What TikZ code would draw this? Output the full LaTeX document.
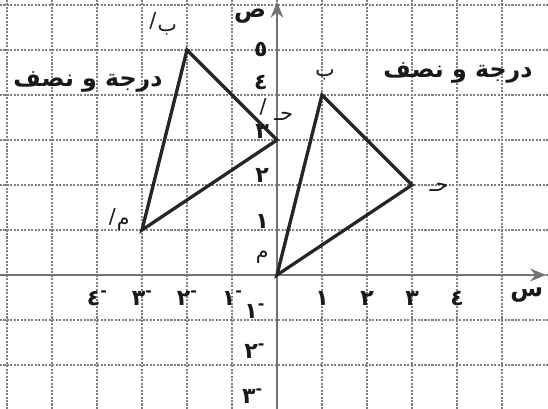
\documentclass[tikz,border=0pt]{standalone}
\usepackage{fontspec}
\TeXXeTstate=1
\newfontfamily\arabicfont[Script=Arabic]{DejaVu Sans}
\usetikzlibrary{arrows.meta}
\tikzset{
  gridln/.style={draw=black!50, line width=0.7pt, dash pattern=on 1.3pt off 0.9pt},
  axisln/.style={draw=black!55, line width=1.6pt, -{Stealth[length=10pt,width=8pt]}},
  triln/.style={draw=black!85, line width=2.1pt, line join=miter},
  num/.style={font=\arabicfont\bfseries\fontsize{14}{14}\selectfont, inner sep=0pt, text=black!90},
  ptl/.style={font=\arabicfont\fontsize{13}{13}\selectfont, inner sep=0pt, text=black!90},
  slash/.style={font=\arabicfont\fontsize{13}{13}\selectfont, inner sep=0pt, text=black!90, text height=1.4ex, text depth=0pt},
  title/.style={font=\arabicfont\bfseries\fontsize{15}{15}\selectfont, inner sep=0pt, text=black!90},
}
\newcommand{\negm}{\raisebox{0.75ex}{\fontsize{10}{10}\selectfont -}}
\begin{document}
\begin{tikzpicture}
\useasboundingbox[fill=white] (-6.156,-2.978) rectangle (6.022,6.111);
% grid
\foreach \x in {-6,...,5} \draw[gridln] (\x,-2.978) -- (\x,6.111);
\foreach \y in {-2,...,6} \draw[gridln] (-6.156,\y) -- (6.022,\y);
% axes
\coordinate (xs) at (-6.156,0);
\coordinate (xe) at (5.98,0);
\coordinate (ys) at (0,-2.978);
\coordinate (ye) at (0,6.07);
\draw[axisln] (xs) -- (xe);
\draw[axisln] (ys) -- (ye);
% triangles
\coordinate (A) at (0,0);
\coordinate (B) at (1,4);
\coordinate (C) at (3,2);
\coordinate (A2) at (-3,1);
\coordinate (B2) at (-2,5);
\coordinate (C2) at (0,3);
\draw[triln] (A) -- (B) -- (C) -- cycle;
\draw[triln] (A2) -- (B2) -- (C2) -- cycle;
% x-axis numbers
\node[num] (x1) at (1,-0.52) {١};
\node[num] (x2) at (2,-0.52) {٢};
\node[num] (x3) at (3,-0.52) {٣};
\node[num] (x4) at (4,-0.52) {٤};
\node[num] (xm1) at (-1,-0.52) {١\negm};
\node[num] (xm2) at (-2,-0.52) {٢\negm};
\node[num] (xm3) at (-3,-0.52) {٣\negm};
\node[num] (xm4) at (-4,-0.52) {٤\negm};
% y-axis numbers
\node[num] (y5) at (-0.36,5.0) {٥};
\node[num] (y4) at (-0.36,4.28) {٤};
\node[num] (y3) at (-0.33,3.2) {٣};
\node[num] (y2) at (-0.33,2.22) {٢};
\node[num] (y1) at (-0.33,1.18) {١};
\node[num] (ym1) at (-0.5,-0.8) {١\negm};
\node[num] (ym2) at (-0.5,-1.7) {٢\negm};
\node[num] (ym3) at (-0.55,-2.7) {٣\negm};
% axis names
\node[num, font=\arabicfont\bfseries\fontsize{15}{15}\selectfont] (sy) at (-0.6,5.76) {ص};
\node[num, font=\arabicfont\bfseries\fontsize{15}{15}\selectfont] (sx) at (5.55,-0.45) {س};
% point labels
\node[ptl] (lA) at (-0.33,0.4) {م};
\node[ptl] (lB) at (1.07,4.45) {ب};
\node[ptl] (lC) at (3.6,1.95) {حـ};
\node[slash] (lA2s) at (-3.66,1.26) {/};
\node[ptl] (lA2) at (-3.42,1.12) {م};
\node[slash] (lB2s) at (-2.76,5.6) {/};
\node[ptl] (lB2) at (-2.44,5.45) {ب};
\node[slash] (lC2s) at (-0.31,3.7) {/};
\node[ptl] (lC2) at (0.15,3.52) {حـ};
% titles
\node[title] (t1) at (-4.2,4.3) {\beginR درجة و نصف\endR};
\node[title] (t2) at (4.02,4.5) {\beginR درجة و نصف\endR};
\end{tikzpicture}
\end{document}
